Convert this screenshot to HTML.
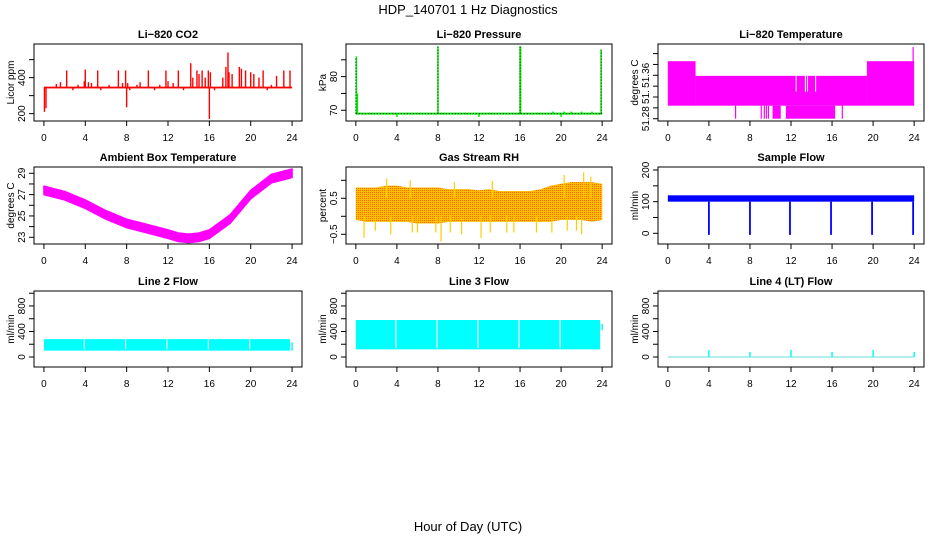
<!DOCTYPE html>
<html><head><meta charset="utf-8"><style>
html,body{margin:0;padding:0;background:#fff}
svg{display:block;font-family:"Liberation Sans",sans-serif}
</style></head><body>
<svg id="c" width="936" height="540" viewBox="0 0 936 540">
<defs>
<pattern id="rhpat" width="2" height="2" patternUnits="userSpaceOnUse">
<rect width="2" height="2" fill="#ffcc00"/><rect width="1" height="1" fill="#ff5000"/>
</pattern>
</defs>
<text x="468" y="14" font-size="13" text-anchor="middle">HDP_140701  1 Hz Diagnostics</text>
<text x="468" y="531" font-size="13" text-anchor="middle">Hour of Day (UTC)</text>
</svg>
<script>
// ---------- data ----------
const xTicks = [0,4,8,12,16,20,24];
// CO2
const co2Base = 345;
const co2SpikeHours = [0.05,0.2,1.2,1.6,2.2,2.8,3.3,3.9,4.0,4.3,4.6,5.2,5.5,6.3,7.2,7.6,7.9,8.0,8.1,8.3,9.0,9.3,10.1,10.7,11.2,11.8,12.0,12.5,13.0,13.5,14.2,14.4,14.8,15.0,15.3,15.6,15.9,16.0,16.1,16.5,17.0,17.3,17.6,17.8,17.9,18.2,18.5,18.9,19.1,19.5,20.0,20.3,20.8,21.2,21.6,22.0,22.5,23.2,23.8];
const co2SpikeVals = [210,230,365,375,440,330,360,380,445,375,370,440,330,360,440,370,440,235,370,330,360,375,440,330,360,440,380,370,440,330,480,400,440,420,440,400,440,170,430,330,350,400,460,540,430,420,340,460,450,440,430,420,400,440,330,360,410,440,440];
// Pressure
const presBase = 69;
const presSpikeHours = [0.05,0.15,8.0,16.0,16.05,23.9,4.0,12.0,20.0,19.2,20.3,21.0,22.0,23.0];
const presSpikeVals = [86,75,89,89,89,88,68,68,68,69.6,69.6,69.6,69.6,69.6];
// Li-820 temperature (segments [start,end,low,high])
const tempSegStart = [0,2.7,19.4,10.2,11.5];
const tempSegEnd   = [2.7,19.4,24,11.0,16.3];
const tempSegLow   = [51.304,51.304,51.304,51.28,51.28];
const tempSegHigh  = [51.386,51.359,51.386,51.304,51.304];
const tempDipHours = [6.6,9.1,9.4,9.6,9.8,17.0];
const tempSpikeHour = 23.9, tempSpikeVal = 51.412;
// Ambient box temperature
const ambHours = [0,2,4,6,8,10,12,13,14,15,16,18,20,22,24];
const ambVals  = [27.4,26.9,26.1,25.1,24.3,23.8,23.3,23.0,22.9,23.0,23.3,24.7,27.0,28.5,29.0];
const ambHalfWidth = 0.4;
// Gas stream RH
const rhHours = [0,1,2,3,4,5,6,7,8,9,10,11,12,13,14,15,16,17,18,19,20,21,22,23,24];
const rhTop = [0.8,0.8,0.8,0.85,0.85,0.8,0.8,0.8,0.8,0.75,0.75,0.75,0.72,0.75,0.7,0.7,0.7,0.7,0.75,0.85,0.9,0.95,0.95,0.95,0.9];
const rhBot = [-0.1,-0.15,-0.15,-0.15,-0.15,-0.15,-0.2,-0.2,-0.2,-0.15,-0.15,-0.15,-0.15,-0.15,-0.15,-0.15,-0.15,-0.15,-0.15,-0.15,-0.1,-0.1,-0.1,-0.15,-0.1];
const rhDownHours = [0.8,1.9,3.4,5.5,6.0,7.8,8.3,9.2,10.3,12.2,13.1,14.7,15.4,17.6,19.1,20.6,21.5,22.0];
const rhDownVals  = [-0.6,-0.4,-0.5,-0.45,-0.45,-0.45,-0.7,-0.45,-0.5,-0.6,-0.45,-0.45,-0.45,-0.45,-0.45,-0.4,-0.4,-0.5];
const rhUpHours = [3.0,5.3,9.6,13.3,20.3,22.2,22.9];
const rhUpVals  = [1.05,1.0,0.95,0.98,1.15,1.22,1.1];
// Sample flow
const sfLow = 100, sfHigh = 120;
const sfDipHours = [4.0,8.0,11.9,15.9,19.9,23.9];
const sfDipVals  = [-5,-5,-5,-5,-5,-5];
// Line 2 / Line 3 / Line 4 flows
const l2Low = 100, l2High = 280;
const l3Low = 120, l3High = 580;
const gapHours = [3.9,7.9,11.9,15.9,19.9];
const l4Base = 0;
const l4SpikeHours = [4,8,12,16,20,24];
const l4SpikeVals  = [110,80,110,80,110,80];

// ---------- layout ----------
const NS = 'http://www.w3.org/2000/svg';
const svg = document.getElementById('c');
const cols = [[34,302],[346,612],[658,924]];
const rows = [[44,121],[167,244],[291,367]];
function el(tag, attrs, parent){ const e=document.createElementNS(NS,tag); for(const k in attrs) e.setAttribute(k,attrs[k]); (parent||svg).appendChild(e); return e; }

function panel(name, c, r, title, ylab, ylim, yticks, ylabels){
  const [x0,x1]=cols[c], [y0,y1]=rows[r];
  const g = el('g',{});
  
  
  const xs = h => x0 + (h + 0.96)/(25.92)*(x1-x0);
  const ys = v => y1 - (v-ylim[0])/(ylim[1]-ylim[0])*(y1-y0);
  const plot = el('g',{},g);
  
  
  const box = el('rect',{x:x0,y:y0,width:x1-x0,height:y1-y0,fill:'none',stroke:'#000','stroke-width':1},g);
  
  
  const t = el('text',{x:(x0+x1)/2,y:y0-6,'font-size':11,'font-weight':'bold','text-anchor':'middle'},g);
  t.textContent = title;
  
  
  const xa = el('g',{},g);
  
  
  xTicks.forEach(h=>{
    el('line',{x1:xs(h),x2:xs(h),y1:y1,y2:y1+5,stroke:'#000'},xa);
    const tl = el('text',{x:xs(h),y:y1+20,'font-size':10,'text-anchor':'middle'},xa);
    tl.textContent = h;
  });
  const ya = el('g',{},g);
  
  
  yticks.forEach(v=>{ el('line',{x1:x0,x2:x0-5,y1:ys(v),y2:ys(v),stroke:'#000'},ya); });
  ylabels.forEach(([v,s])=>{
    const tl = el('text',{x:0,y:0,'font-size':10,'text-anchor':'middle',transform:`translate(${x0-9},${ys(v)}) rotate(-90)`},ya);
    tl.textContent = s;
  });
  const yl = el('text',{x:0,y:0,'font-size':10,'text-anchor':'middle',transform:`translate(${x0-20},${(y0+y1)/2}) rotate(-90)`},g);
  yl.textContent = ylab;
  
  
  return {xs,ys,plot};
}
function vline(p,h,a,b,col,w){ el('line',{x1:p.xs(h),x2:p.xs(h),y1:p.ys(a),y2:p.ys(b),stroke:col,'stroke-width':w||1},p.plot); }
function rectv(p,h0,h1,a,b,fill){ el('rect',{x:p.xs(h0),y:p.ys(b),width:p.xs(h1)-p.xs(h0),height:p.ys(a)-p.ys(b),fill:fill},p.plot); }

// CO2
let p = panel('co2',0,0,'Li\u2212820 CO2','Licor ppm',[159,587],[200,300,400,500],[[200,'200'],[400,'400']]);
co2SpikeHours.forEach((h,i)=>vline(p,h,co2Base,co2SpikeVals[i],'#ff0000',1.4));
rectv(p,0,24,co2Base-5,co2Base+5,'#ff0000');

// Pressure
p = panel('pressure',1,0,'Li\u2212820 Pressure','kPa',[66.8,89.7],[70,75,80,85],[[70,'70'],[80,'80']]);
presSpikeHours.forEach((h,i)=>vline(p,h,presBase,presSpikeVals[i],'#00ee00',1.5));
el('line',{x1:p.xs(0),x2:p.xs(24),y1:p.ys(presBase),y2:p.ys(presBase),stroke:'#00ee00','stroke-width':2},p.plot);
el('line',{x1:p.xs(0),x2:p.xs(24),y1:p.ys(presBase),y2:p.ys(presBase),stroke:'#000','stroke-width':1,'stroke-dasharray':'1 2'},p.plot);
[0,8,16,23.9].forEach((h,i)=>{ const top=[86,89,89,88][i]; el('line',{x1:p.xs(h),x2:p.xs(h),y1:p.ys(presBase),y2:p.ys(top),stroke:'#000','stroke-width':1,'stroke-dasharray':'1 2'},p.plot); });

// Li-820 temperature
p = panel('li820-temp',2,0,'Li\u2212820 Temperature','degrees C',[51.2758,51.4177],[51.28,51.30,51.32,51.34,51.36,51.38,51.40],[[51.28,'51.28'],[51.32,'51.'],[51.36,'51.36']]);
tempSegStart.forEach((s,i)=>rectv(p,s,tempSegEnd[i],tempSegLow[i],tempSegHigh[i],'#ff00ff'));
tempDipHours.forEach(h=>vline(p,h,51.28,51.304,'#ff00ff',1.2));
[2.8,3.1].forEach(h=>vline(p,h,51.359,51.386,'#fff',1));
[12.5,13.4,13.6,14.4].forEach(h=>vline(p,h,51.33,51.359,'#fff',1));
vline(p,tempSpikeHour,51.304,tempSpikeVal,'#ff00ff',1.2);

// Ambient
p = panel('ambient-temp',0,1,'Ambient Box Temperature','degrees C',[22.37,29.59],[23,24,25,26,27,28,29],[[23,'23'],[25,'25'],[27,'27'],[29,'29']]);
{ let d='M'; ambHours.forEach((h,i)=>{ d+=`${p.xs(h)},${p.ys(ambVals[i]+ambHalfWidth)} L`; });
  for(let i=ambHours.length-1;i>=0;i--){ d+=`${p.xs(ambHours[i])},${p.ys(ambVals[i]-ambHalfWidth)}`+(i?' L':' Z'); }
  el('path',{d:d,fill:'#ff00ff',stroke:'#ff00ff','stroke-width':1.5,'stroke-linejoin':'round'},p.plot); }

// RH
p = panel('gas-rh',1,1,'Gas Stream RH','percent',[-0.77,1.37],[-0.5,0,0.5,1.0],[[-0.5,'\u22120.5'],[0.5,'0.5']]);
{ let d='M'; rhHours.forEach((h,i)=>{ d+=`${p.xs(h)},${p.ys(rhTop[i])} L`; });
  for(let i=rhHours.length-1;i>=0;i--){ d+=`${p.xs(rhHours[i])},${p.ys(rhBot[i])}`+(i?' L':' Z'); }
  el('path',{d:d,fill:'#ff9a00'},p.plot);
  el('path',{d:d,fill:'url(#rhpat)','fill-opacity':0.7},p.plot); }
rhDownHours.forEach((h,i)=>vline(p,h,0,rhDownVals[i],'#ffcc00',1.2));
rhUpHours.forEach((h,i)=>vline(p,h,0.5,rhUpVals[i],'#ffcc00',1.2));

// Sample flow
p = panel('sample-flow',2,1,'Sample Flow','ml/min',[-33.8,209.5],[0,50,100,150,200],[[0,'0'],[100,'100'],[200,'200']]);
rectv(p,0,24,sfLow,sfHigh,'#0000ff');
sfDipHours.forEach((h,i)=>vline(p,h,sfLow,sfDipVals[i],'#0000ff',1.8));

// Line 2
p = panel('line2-flow',0,2,'Line 2 Flow','ml/min',[-157,1035],[0,200,400,600,800,1000],[[0,'0'],[400,'400'],[800,'800']]);
rectv(p,0,23.8,l2Low,l2High,'#00ffff');
gapHours.forEach(h=>vline(p,h,l2Low+20,l2High,'#fff',1));
vline(p,24,l2Low,230,'#00ffff',1.5);

// Line 3
p = panel('line3-flow',1,2,'Line 3 Flow','ml/min',[-157,1035],[0,200,400,600,800,1000],[[0,'0'],[400,'400'],[800,'800']]);
rectv(p,0,23.8,l3Low,l3High,'#00ffff');
gapHours.forEach(h=>vline(p,h,l3Low+20,l3High,'#fff',1.2));
vline(p,24,l3Low+300,520,'#00ffff',1.5);

// Line 4
p = panel('line4-flow',2,2,'Line 4 (LT) Flow','ml/min',[-157,1035],[0,200,400,600,800,1000],[[0,'0'],[400,'400'],[800,'800']]);
el('line',{x1:p.xs(0),x2:p.xs(24),y1:p.ys(l4Base),y2:p.ys(l4Base),stroke:'#66dddd','stroke-width':1},p.plot);
l4SpikeHours.forEach((h,i)=>vline(p,h,l4Base,l4SpikeVals[i],'#00ffff',1.5));
</script>
</body></html>
